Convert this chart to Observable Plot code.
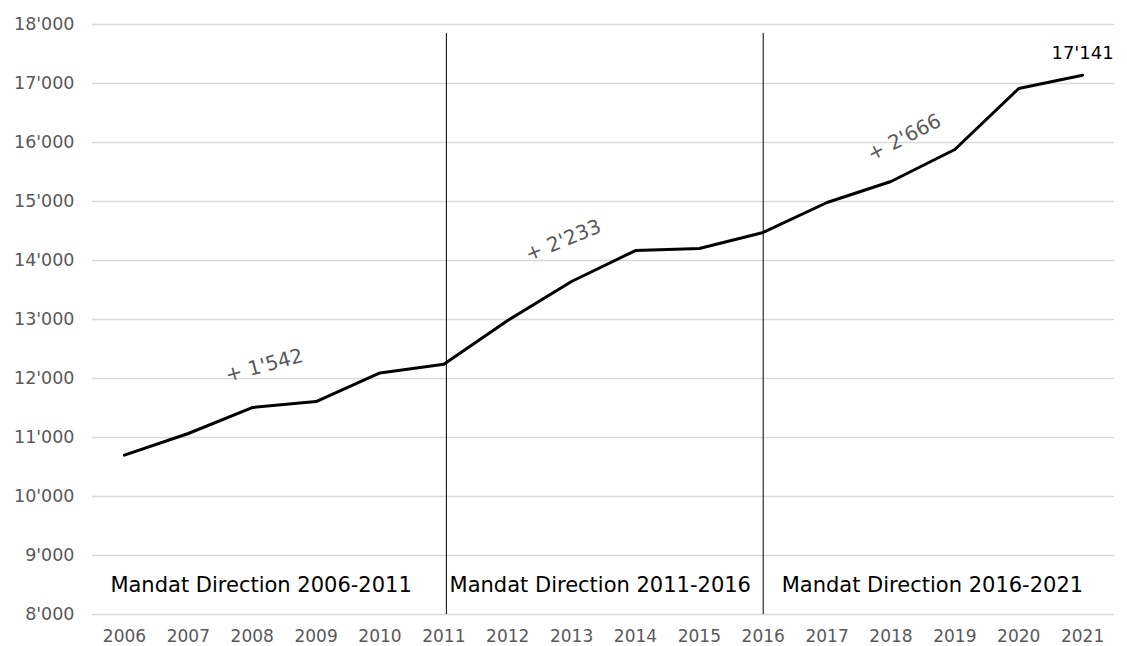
<!DOCTYPE html>
<html><head><meta charset="utf-8">
<script src="https://cdn.jsdelivr.net/npm/d3@7"></script>
<script src="https://cdn.jsdelivr.net/npm/@observablehq/plot@0.6"></script>
<style>body{margin:0;background:#fff;} svg{font-family:"DejaVu Sans",Verdana,sans-serif;}</style>
</head><body><div id="chart"></div>
<script>
const years = [2006,2007,2008,2009,2010,2011,2012,2013,2014,2015,2016,2017,2018,2019,2020,2021];
const values = [10700,11068,11508,11610,12095,12242,12983,13644,14169,14203,14475,14983,15339,15881,16915,17141];
const yTicks = [8000,9000,10000,11000,12000,13000,14000,15000,16000,17000,18000];
const mandateBreaks = [2011.04, 2016];
const mandateLabels = ["Mandat Direction 2006-2011","Mandat Direction 2011-2016","Mandat Direction 2016-2021"];
const mandateLabelX = [2005.78, 2011.09, 2016.29];
const gainLabels = ["+ 1'542","+ 2'233","+ 2'666"];
const gainX = [2008.19, 2012.87, 2018.21];
const gainY = [12220, 14339, 16085];
const gainRotate = [-15, -22, -27];

const fmt = d3.formatLocale({decimal:".", thousands:"'", grouping:[3], currency:["",""]}).format(",d");
const data = years.map((y,i)=>({year:y, value:values[i]}));

const plot = Plot.plot({
  width: 1127, height: 646,
  marginLeft: 92, marginRight: 13, marginTop: 24, marginBottom: 32,
  style: {fontFamily: '"DejaVu Sans", Verdana, sans-serif', background: "#fff"},
  x: {type: "linear", domain: [2005.5, 2021.5], axis: null},
  y: {domain: [8000, 18000], axis: null},
  marks: [
    Plot.gridY(yTicks, {stroke: "#d9d9d9", strokeOpacity: 1, strokeWidth: 1.5}),
    Plot.axisY(yTicks, {label: null, tickSize: 0, tickPadding: 18, tickFormat: fmt, fontSize: 17.5, fill: "#595959"}),
    Plot.axisX(years, {label: null, tickSize: 0, tickPadding: 15, tickFormat: d => String(d), fontSize: 17, fill: "#595959"}),
    Plot.ruleX(mandateBreaks, {y1: 17850, y2: 8000, stroke: "#000", strokeWidth: 1}),
    Plot.line(data, {x: "year", y: "value", stroke: "#000", strokeWidth: 3}),
    Plot.text([data[data.length-1]], {x: "year", y: "value", text: d => fmt(d.value), dy: -22, fontSize: 18, fill: "#000"}),
    Plot.text(mandateLabels, {x: (d,i) => mandateLabelX[i], y: 8500, text: d => d, textAnchor: "start", fontSize: 21, fill: "#000"}),
    ...gainLabels.map((t,i) => Plot.text([t], {x: gainX[i], y: gainY[i], text: d => d, rotate: gainRotate[i], fontSize: 20, fill: "#595959"}))
  ]
});
document.getElementById("chart").appendChild(plot);
</script>
</body></html>
